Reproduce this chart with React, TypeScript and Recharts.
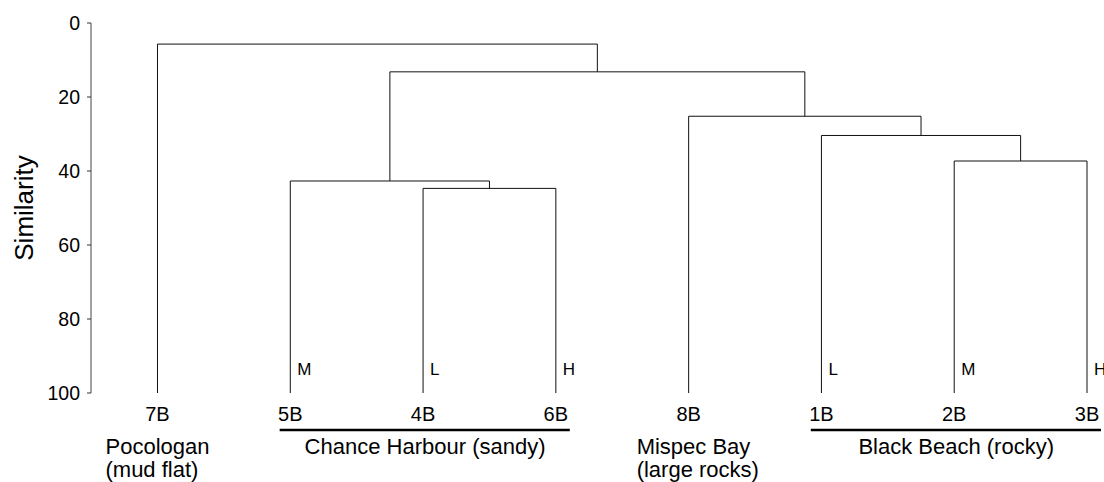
import { ComposedChart, Line, Scatter, XAxis, YAxis, ReferenceLine } from 'recharts';

const leaves = ['7B', '5B', '4B', '6B', '8B', '1B', '2B', '3B'];
const levels = ['', 'M', 'L', 'H', '', 'L', 'M', 'H'];

// hclust style merge table: -k is leaf k (1-based), j is the cluster made at step j
const mergeA = [-7, -6, -5, -3, -2, 5, -1];
const mergeB = [-8, 1, 2, -4, 4, 3, 6];
const heights = [37.3, 30.4, 25.2, 44.7, 42.7, 13.2, 5.7];

const groupNames = [['Pocologan', '(mud flat)'], ['Chance Harbour (sandy)'], ['Mispec Bay', '(large rocks)'], ['Black Beach (rocky)']];
const groupFirst = [0, 1, 4, 5];
const groupLast = [0, 3, 4, 7];

const yTicks = [0, 20, 40, 60, 80, 100];

const LEAF = 100;
const BAR_Y = 110;
const X_MIN = -0.5008;
const X_MAX = 7.128;

const nodeX: number[] = [];
const nodeH: number[] = [];
const pos = (id: number) => (id < 0 ? { x: -id - 1, h: LEAF } : { x: nodeX[id - 1], h: nodeH[id - 1] });

const links = heights.map((h, i) => {
  const a = pos(mergeA[i]);
  const b = pos(mergeB[i]);
  nodeX.push((a.x + b.x) / 2);
  nodeH.push(h);
  return [
    { x: a.x, y: a.h },
    { x: a.x, y: h },
    { x: b.x, y: h },
    { x: b.x, y: b.h },
  ];
});

const leafPoints = leaves.map((name, i) => ({ x: i, y: LEAF, name, level: levels[i] }));

const groupPoints = groupNames.map((lines, i) => ({
  x: (groupFirst[i] + groupLast[i]) / 2,
  y: LEAF,
  lines,
  single: groupFirst[i] === groupLast[i],
}));

const bars = groupNames
  .map((_, i) => i)
  .filter((i) => groupFirst[i] < groupLast[i])
  .map((i) => [
    { x: groupFirst[i] - 0.08, y: BAR_Y },
    { x: groupLast[i] + 0.105, y: BAR_Y },
  ]);

const LeafLabel = (props: any) => {
  const { cx, cy, payload } = props;
  return (
    <g>
      <text x={cx} y={cy + 28} textAnchor="middle" fontSize={20} fill="#000">
        {payload.name}
      </text>
      {payload.level ? (
        <text x={cx + 7} y={cy - 18} textAnchor="start" fontSize={17} fill="#000">
          {payload.level}
        </text>
      ) : null}
    </g>
  );
};

const GroupLabel = (props: any) => {
  const { cx, cy, payload } = props;
  const x = payload.single ? cx - 52 : cx + 2;
  return (
    <text textAnchor={payload.single ? 'start' : 'middle'} fontSize={22} fill="#000">
      {payload.lines.map((t: string, k: number) => (
        <tspan key={k} x={x} y={cy + 61 + k * 23}>
          {t}
        </tspan>
      ))}
    </text>
  );
};

const AxisTitle = (props: any) => {
  const { cx, cy } = props;
  const x = cx - 58;
  return (
    <text x={x} y={cy} transform={`rotate(-90, ${x}, ${cy})`} textAnchor="middle" fontSize={26} fill="#000">
      Similarity
    </text>
  );
};

export default function App() {
  return (
    <div style={{ position: 'absolute', left: 0, top: 0, fontFamily: '"Liberation Sans", Arial, sans-serif' }}>
      <ComposedChart width={1104} height={482} margin={{ top: 23, right: 0, bottom: 0, left: 0 }}>
        <XAxis type="number" dataKey="x" domain={[X_MIN, X_MAX]} hide />
        <YAxis
          type="number"
          dataKey="y"
          domain={[0, 124.05]}
          reversed
          width={91}
          ticks={yTicks}
          interval={0}
          axisLine={false}
          tickSize={4}
          tickMargin={7}
          tickLine={{ stroke: '#333' }}
          tick={{ fontSize: 19.5, fill: '#000' }}
        />
        <ReferenceLine
          segment={[
            { x: X_MIN, y: 0 },
            { x: X_MIN, y: 100 },
          ]}
          stroke="#444"
          strokeWidth={1}
        />
        {links.map((d, i) => (
          <Line
            key={'link' + i}
            data={d}
            dataKey="y"
            type="linear"
            stroke="#111"
            strokeWidth={1}
            dot={false}
            isAnimationActive={false}
          />
        ))}
        {bars.map((d, i) => (
          <Line
            key={'bar' + i}
            data={d}
            dataKey="y"
            type="linear"
            stroke="#000"
            strokeWidth={2.5}
            dot={false}
            isAnimationActive={false}
          />
        ))}
        <Scatter data={leafPoints} shape={LeafLabel} isAnimationActive={false} />
        <Scatter data={groupPoints} shape={GroupLabel} isAnimationActive={false} />
        <Scatter data={[{ x: X_MIN, y: 50 }]} shape={AxisTitle} isAnimationActive={false} />
      </ComposedChart>
    </div>
  );
}
